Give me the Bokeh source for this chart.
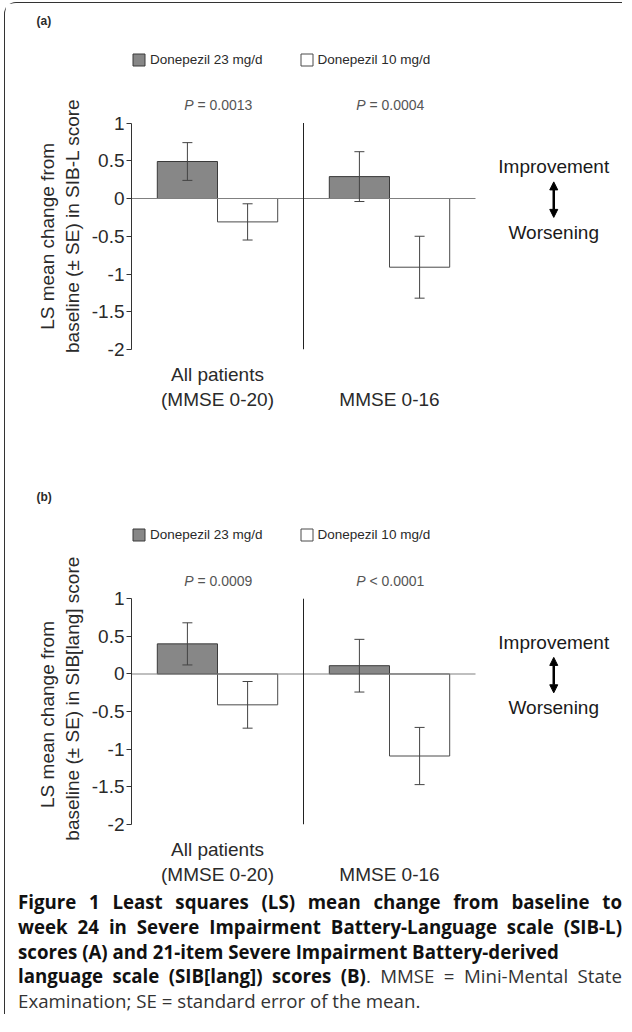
from bokeh.plotting import figure
from bokeh.models import (Range1d, FixedTicker, Label, Arrow, NormalHead, Div, Title,
                          Whisker, TeeHead, ColumnDataSource, Legend, LegendItem)
from bokeh.layouts import column
from bokeh.embed import file_html
from bokeh.resources import INLINE

# ---------------- data ----------------
group_x = [1, 2]
group_labels = ["All patients\n(MMSE 0-20)", "\nMMSE 0-16"]
series_names = ["Donepezil 23 mg/d", "Donepezil 10 mg/d"]

a_hi = [0.49, 0.29]
a_hi_se = [0.25, 0.33]
a_lo = [-0.31, -0.91]
a_lo_se = [0.24, 0.41]
a_p_sym = ["=", "="]
a_p_val = ["0.0013", "0.0004"]
a_ylabel = ["LS mean change from", "baseline (\u00b1 SE) in SIB-L score"]

b_hi = [0.40, 0.11]
b_hi_se = [0.28, 0.35]
b_lo = [-0.41, -1.09]
b_lo_se = [0.31, 0.38]
b_p_sym = ["=", "<"]
b_p_val = ["0.0009", "0.0001"]
b_ylabel = ["LS mean change from", "baseline (\u00b1 SE) in SIB[lang] score"]

y_ticks = [-2, -1.5, -1, -0.5, 0, 0.5, 1]
y_tick_labels = ["-2", "-1.5", "-1", "-0.5", "0", "0.5", "1"]

FONT = "Liberation Sans"
DARK = "#2a2a2a"
PPU_Y = 75.5      # pixels per y unit
PPU_X = 172.0     # pixels per x unit
W = 611
LEFT = 126
TOP = 30
NB = "\u00a0"


def panel(tag, hi, hi_se, lo, lo_se, psym, pval, ylabel, pads, height, bottom):
    frame_h = height - bottom - TOP
    frame_w = W - LEFT
    y_lo, y_hi = min(y_ticks), max(y_ticks)
    x_lo = group_x[0] - 0.5
    x_hi = group_x[-1] + 0.5
    p = figure(width=W, height=height,
               x_range=Range1d(x_lo, x_lo + frame_w / PPU_X),
               y_range=Range1d(y_lo, y_lo + frame_h / PPU_Y),
               output_backend="svg", toolbar_location=None,
               min_border_left=LEFT, min_border_right=0, min_border_top=TOP,
               min_border_bottom=bottom)
    p.title = Title(text=tag, align="left", offset=-95, standoff=12,
                    text_font=FONT, text_font_size="12px", text_font_style="bold",
                    text_color=DARK)
    p.outline_line_color = None
    p.grid.visible = False

    off, w = 0.175, 0.35
    src_hi = ColumnDataSource(dict(x=[g - off for g in group_x], top=hi,
                                   upper=[v + e for v, e in zip(hi, hi_se)],
                                   lower=[v - e for v, e in zip(hi, hi_se)]))
    src_lo = ColumnDataSource(dict(x=[g + off for g in group_x], top=lo,
                                   upper=[v + e for v, e in zip(lo, lo_se)],
                                   lower=[v - e for v, e in zip(lo, lo_se)]))
    r1 = p.vbar(x="x", top="top", bottom=0, width=w, source=src_hi,
                fill_color="#878787", line_color="#3a3a3a", line_width=1)
    r2 = p.vbar(x="x", top="top", bottom=0, width=w, source=src_lo,
                fill_color="white", line_color="#4a4a4a", line_width=1)
    for src in (src_hi, src_lo):
        wk = Whisker(source=src, base="x", upper="upper", lower="lower",
                     line_color="#444444", line_width=1,
                     upper_head=TeeHead(size=10, line_color="#444444", line_width=1),
                     lower_head=TeeHead(size=10, line_color="#444444", line_width=1))
        wk.level = "annotation"
        p.add_layout(wk)

    # zero line and group separator
    p.segment(x0=[x_lo], y0=[0], x1=[x_hi], y1=[0], line_color="#808080", line_width=1.2)
    p.segment(x0=[(group_x[0] + group_x[1]) / 2], y0=[y_lo],
              x1=[(group_x[0] + group_x[1]) / 2], y1=[y_hi],
              line_color="#222222", line_width=1)

    # y axis
    ya = p.yaxis[0]
    ya.bounds = (y_lo, y_hi)
    ya.ticker = FixedTicker(ticks=y_ticks)
    ya.major_label_overrides = {t: s for t, s in zip(y_ticks, y_tick_labels)}
    ya.minor_tick_line_color = None
    ya.major_tick_in = 0
    ya.major_tick_out = 5
    ya.axis_line_color = "#333333"
    ya.major_tick_line_color = "#333333"
    ya.major_label_text_font = FONT
    ya.major_label_text_font_size = "19px"
    ya.major_label_text_color = DARK
    ya.major_label_standoff = 2
    # trailing non-breaking spaces push the centred label down to the axis' own span
    ya.axis_label = "\n".join(t + NB * n for t, n in zip(ylabel, pads))
    ya.axis_label_text_font = FONT
    ya.axis_label_text_font_size = "19px"
    ya.axis_label_text_font_style = "normal"
    ya.axis_label_text_color = DARK
    ya.axis_label_standoff = 6

    # x axis (category labels)
    xa = p.xaxis[0]
    xa.ticker = FixedTicker(ticks=group_x)
    xa.major_label_overrides = {g: s for g, s in zip(group_x, group_labels)}
    xa.axis_line_color = None
    xa.major_tick_line_color = None
    xa.minor_tick_line_color = None
    xa.major_label_text_font = FONT
    xa.major_label_text_font_size = "19px"
    xa.major_label_text_color = DARK
    xa.major_label_standoff = 8

    # legend (inside the frame, above the plotting area)
    leg = Legend(items=[LegendItem(label=series_names[0], renderers=[r1]),
                        LegendItem(label=series_names[1], renderers=[r2])],
                 orientation="horizontal", location=(0, 282), padding=0, margin=0,
                 spacing=36, glyph_width=15, glyph_height=15, label_standoff=4,
                 border_line_color=None, background_fill_alpha=0,
                 label_text_font=FONT, label_text_font_size="13.5px",
                 label_text_color=DARK)
    p.add_layout(leg)

    # P values
    for g, s, v in zip(group_x, psym, pval):
        p.add_layout(Label(x=g, y=1.24, text="P", text_align="right", text_baseline="middle",
                           x_offset=-24, text_font=FONT, text_font_size="14px",
                           text_font_style="italic", text_color="#555555"))
        p.add_layout(Label(x=g, y=1.24, text=s + " " + v, text_align="left",
                           text_baseline="middle", x_offset=-20, text_font=FONT,
                           text_font_size="14px", text_color="#555555"))

    # Improvement / Worsening
    ax = 2.955
    p.add_layout(Label(x=ax, y=0.42, text="Improvement", text_align="center",
                       text_baseline="middle", text_font=FONT, text_font_size="19px",
                       text_color="#1a1a1a"))
    p.add_layout(Label(x=ax, y=-0.45, text="Worsening", text_align="center",
                       text_baseline="middle", text_font=FONT, text_font_size="19px",
                       text_color="#1a1a1a"))
    p.add_layout(Arrow(x_start=ax, y_start=-0.25, x_end=ax, y_end=0.22,
                       line_width=2.5, line_color="black",
                       start=NormalHead(size=8, fill_color="black", line_color="black"),
                       end=NormalHead(size=8, fill_color="black", line_color="black")))
    return p


pa = panel("(a)", a_hi, a_hi_se, a_lo, a_lo_se, a_p_sym, a_p_val, a_ylabel, (17, 13), 476, 130)
pb = panel("(b)", b_hi, b_hi_se, b_lo, b_lo_se, b_p_sym, b_p_val, b_ylabel, (18, 12), 408, 62)

J = "text-align:justify;text-align-last:justify;"
cap_html = (
    "<div style=\"font-family:'Open Sans';font-size:18.7px;line-height:24.8px;color:#111;"
    "box-sizing:border-box;width:617px;padding:3px 0 0 13px;white-space:nowrap;\">"
    f"<div style='{J}'><b>Figure 1 Least squares (LS) mean change from baseline to</b></div>"
    f"<div style='{J}'><b>week 24 in Severe Impairment Battery-Language scale (SIB-L)</b></div>"
    "<div><b>scores (A) and 21-item Severe Impairment Battery-derived</b></div>"
    f"<div style='{J}'><b>language scale (SIB[lang]) scores (B)</b>"
    "<span style='color:#333'>. MMSE = Mini-Mental State</span></div>"
    "<div style='color:#333'>Examination; SE = standard error of the mean.</div>"
    "</div>"
)
cap = Div(text=cap_html, width=617, height=127, margin=0)

layout = column(pa, pb, cap, styles={
    "margin-left": "4px", "margin-top": "2px",
    "border-left": "1.5px solid #333", "border-top": "1.5px solid #333",
    "border-top-left-radius": "12px"})

open("out.html", "w").write(file_html(layout, INLINE))
